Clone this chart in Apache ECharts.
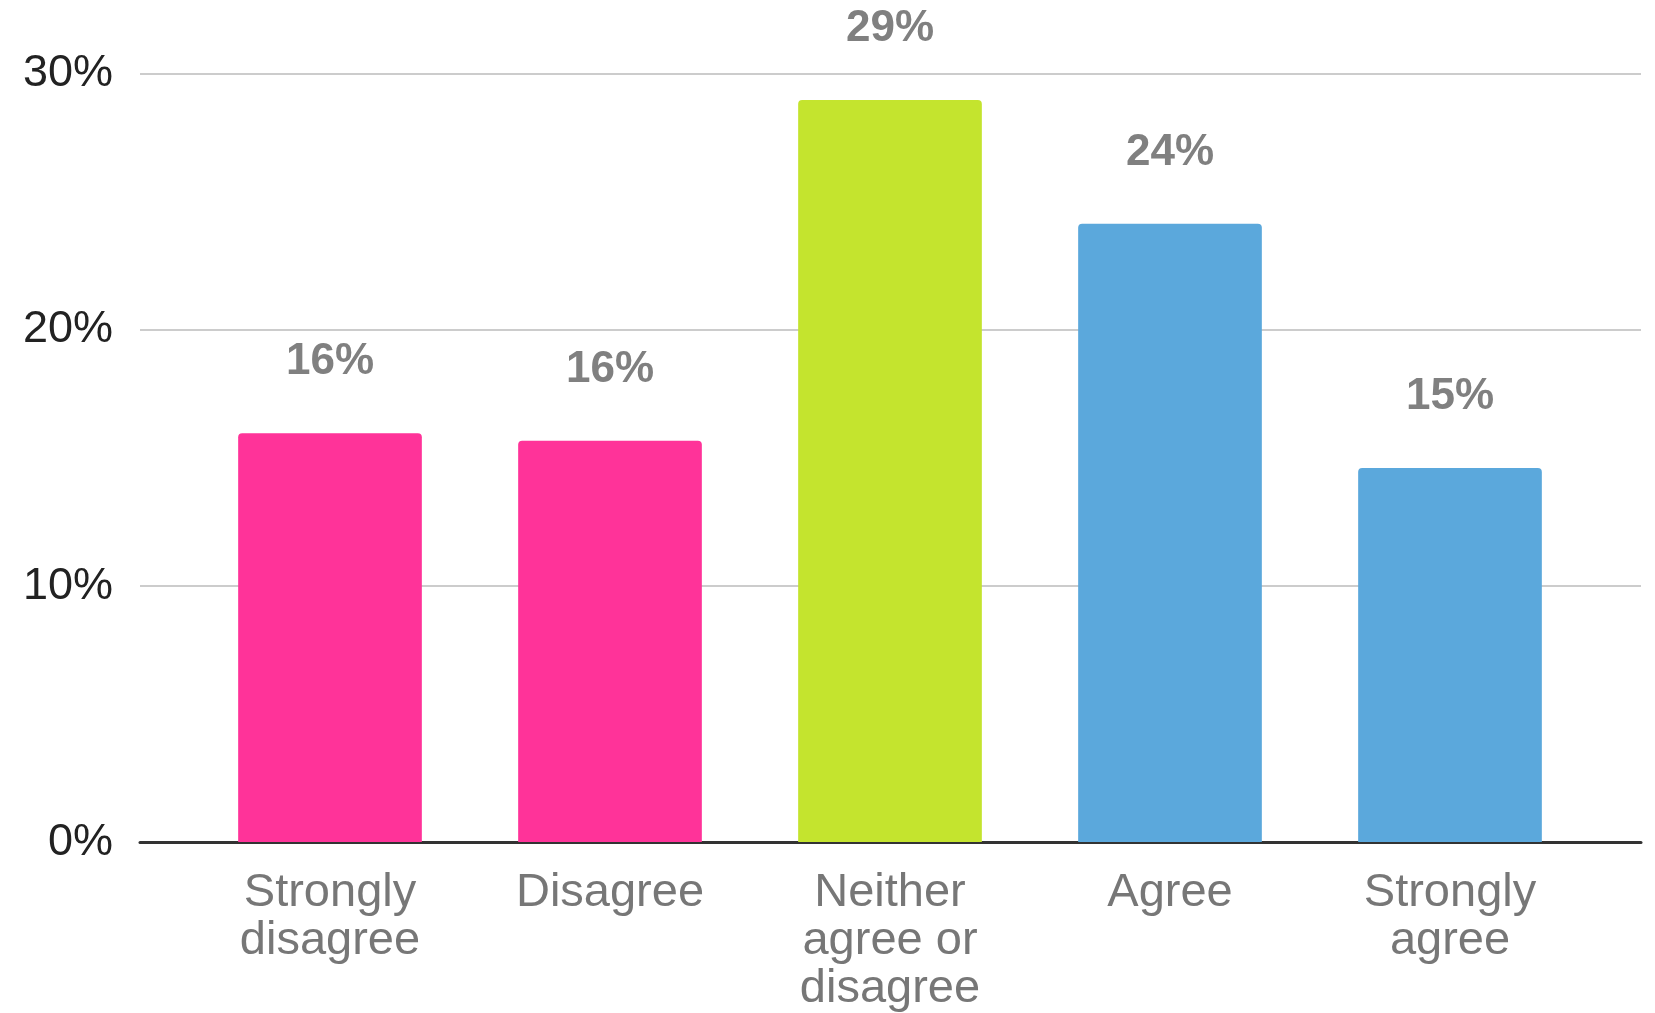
<!DOCTYPE html>
<html>
<head>
<meta charset="utf-8">
<title>Survey responses</title>
<script src="https://cdn.jsdelivr.net/npm/echarts@6/dist/echarts.min.js"></script>
<style>
  html, body { margin: 0; padding: 0; background: #ffffff; }
  #chart { width: 1655px; height: 1013px; }
</style>
</head>
<body>
<div id="chart"></div>
<script>
// Response categories (line breaks are part of the axis labels)
const categories = [
  'Strongly\ndisagree',
  'Disagree',
  'Neither\nagree or\ndisagree',
  'Agree',
  'Strongly\nagree'
];

// Share of respondents, in percent
const shares = [15.96, 15.66, 28.97, 24.13, 14.6];

// Value axis ticks
const yMin = 0;
const yMax = 30;
const yStep = 10;

// Bar colours: disagree side, neutral, agree side
const barColors = ['#ff3399', '#ff3399', '#c4e42e', '#5ba8dc', '#5ba8dc'];

const FONT = '"Liberation Sans", Arial, sans-serif';

const chart = echarts.init(document.getElementById('chart'), null, { renderer: 'canvas' });

chart.setOption({
  backgroundColor: '#ffffff',
  animation: false,
  grid: [
    // wide grid: value axis labels, gridlines and baseline
    { left: 140, right: 14, top: 73.5, bottom: 170.5, containLabel: false },
    // inner grid: the category bands holding the bars
    { left: 190, right: 65, top: 73.5, bottom: 170.5, containLabel: false }
  ],
  xAxis: [
    {
      gridIndex: 0,
      type: 'value',
      min: 0,
      max: 1,
      axisLine: { show: true, onZero: false, lineStyle: { color: '#333333', width: 3 } },
      axisTick: { show: false },
      axisLabel: { show: false },
      splitLine: { show: false }
    },
    {
      gridIndex: 1,
      type: 'category',
      data: categories,
      axisLine: { show: false },
      axisTick: { show: false },
      splitLine: { show: false },
      axisLabel: {
        interval: 0,
        margin: 27,
        color: '#777777',
        fontFamily: FONT,
        fontSize: 47,
        lineHeight: 48
      }
    }
  ],
  yAxis: [
    {
      gridIndex: 0,
      type: 'value',
      min: yMin,
      max: yMax,
      interval: yStep,
      axisLine: { show: false },
      axisTick: { show: false },
      axisLabel: {
        margin: 27,
        color: '#222222',
        fontFamily: FONT,
        fontSize: 45,
        formatter: '{value}%'
      },
      splitLine: { show: true, lineStyle: { color: '#cccccc', width: 2 } }
    },
    {
      gridIndex: 1,
      type: 'value',
      min: yMin,
      max: yMax,
      interval: yStep,
      show: false,
      splitLine: { show: false }
    }
  ],
  series: [
    {
      type: 'bar',
      xAxisIndex: 1,
      yAxisIndex: 1,
      barWidth: '65.6%',
      data: shares.map((v, i) => ({
        value: v,
        itemStyle: { color: barColors[i], borderRadius: [4, 4, 0, 0] }
      })),
      label: {
        show: true,
        position: 'top',
        distance: 49,
        color: '#808080',
        fontFamily: FONT,
        fontWeight: 'bold',
        fontSize: 44,
        formatter: (p) => Math.round(p.value) + '%'
      }
    }
  ]
});
</script>
</body>
</html>
